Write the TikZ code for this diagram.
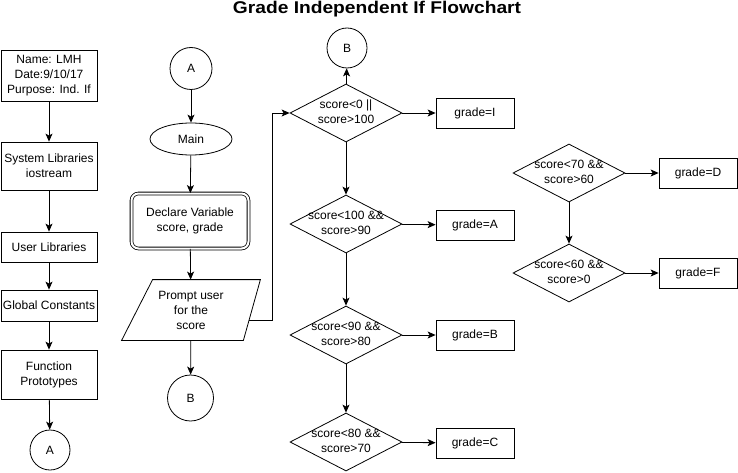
\documentclass[tikz,border=0pt]{standalone}
\usepackage{fontspec}
\setmainfont{Liberation Sans}
\usepackage{tikz}
\usetikzlibrary{positioning}
\usetikzlibrary{shapes,arrows,arrows.meta,positioning,fit}
\tikzstyle{block} = [rectangle, draw, fill=white, text centered, align=center,
inner sep=1pt, minimum width=96pt]
\tikzstyle{grade} = [rectangle, draw, minimum width=78pt, minimum height=30pt]
\tikzstyle{decision} = [diamond, draw, minimum width=112pt, minimum height=58pt, inner sep=0pt]
\tikzstyle{connector} = [circle, draw, minimum size=42pt, inner sep=0pt]
\tikzstyle{term} = [ellipse, draw, minimum width=82pt, minimum height=32pt, inner sep=0pt]
\tikzstyle{line} = [draw, -{Stealth[length=8pt,width=7pt,inset=2pt]}]
\newcommand{\cond}[2]{\makebox[0pt]{\begin{tabular}{@{}c@{}}#1\\#2\end{tabular}}}

\begin{document}
\begin{tikzpicture}[x=1pt, y=-1pt, line width=0.8pt, font=\fontsize{12}{15}\selectfont]
    \useasboundingbox (0,0) rectangle (738,473);
    \node [anchor=base, font=\fontsize{17}{20}\selectfont\bfseries] (title) at (377,13.5)
        {\scalebox{1.13}[1]{Grade Independent If Flowchart}};

    % nodes
    \node [block, minimum height=51pt] (header) at (49,75.5) {Name: LMH\\Date:9/10/17\\Purpose: Ind. If};
    \node [block, minimum height=48pt] (syslib) at (49,166) {System Libraries\\iostream};
    \node [block, minimum height=30pt] (usrlib) at (49,247) {User Libraries};
    \node [block, minimum height=31pt] (globcon) at (49,305.5) {Global Constants};
    \node [block, minimum height=49pt] (protos) at (49,374.5) {Function\\Prototypes};
    \node [connector, minimum size=40pt] (endA) at (50,450) {A};

    \node [connector] (startA) at (191,68.5) {A};
    \node [term] (main) at (191,139) {Main};
    \node [block, double, double distance=2pt, rounded corners=7pt, minimum width=117pt,
        minimum height=55pt] (declare) at (190,221) {Declare Variable\\score, grade};
    \node [minimum width=138pt, minimum height=60pt, align=center, inner sep=0pt] (prompt)
        at (191,310) {Prompt user\\for the\\score};
    \draw ([xshift=31pt]prompt.north west) -- (prompt.north east)
        -- ([xshift=-17pt]prompt.south east) -- (prompt.south west) -- cycle;
    \coordinate (pout) at (249,320);
    \node [connector, minimum size=46pt] (endB) at (190.5,398) {B};

    \node [connector, minimum size=40pt] (startB) at (347,48) {B};
    \node [decision] (dinv) at (346,113) {\cond{score<0 ||}{score>100}};
    \node [decision] (da) at (346,224) {\cond{score<100 \&\&}{score>90}};
    \node [decision] (db) at (346,335) {\cond{score<90 \&\&}{score>80}};
    \node [decision] (dc) at (346,442) {\cond{score<80 \&\&}{score>70}};
    \node [grade] (gradei) at (475,113) {grade=I};
    \node [grade] (gradea) at (475,225) {grade=A};
    \node [grade] (gradeb) at (475,335) {grade=B};
    \node [grade] (gradec) at (475,443) {grade=C};

    \node [decision] (dd) at (569,173) {\cond{score<70 \&\&}{score>60}};
    \node [decision] (df) at (569,273) {\cond{score<60 \&\&}{score>0}};
    \node [grade] (graded) at (698,173) {grade=D};
    \node [grade] (gradef) at (698,273) {grade=F};

    % edges
    \path [line] (header) -- (syslib);
    \path [line] (syslib) -- (usrlib);
    \path [line] (usrlib) -- (globcon);
    \path [line] (globcon) -- (protos);
    \path [line] (protos) -- (endA);
    \path [line] (startA) -- (main);
    \path [line] (main) -- (declare);
    \path [line] (declare) -- (prompt);
    \path [line] (prompt) -- (endB);
    \draw [line] (pout) -- ++(23,0) |- (dinv.west);
    \path [line] (dinv) -- (startB);
    \path [line] (dinv) -- (da);
    \path [line] (da) -- (db);
    \path [line] (db) -- (dc);
    \path [line] (dinv) -- (gradei);
    \path [line] (da) -- (gradea);
    \path [line] (db) -- (gradeb);
    \path [line] (dc) -- (gradec);
    \path [line] (dd) -- (df);
    \path [line] (dd) -- (graded);
    \path [line] (df) -- (gradef);
\end{tikzpicture}
\end{document}
